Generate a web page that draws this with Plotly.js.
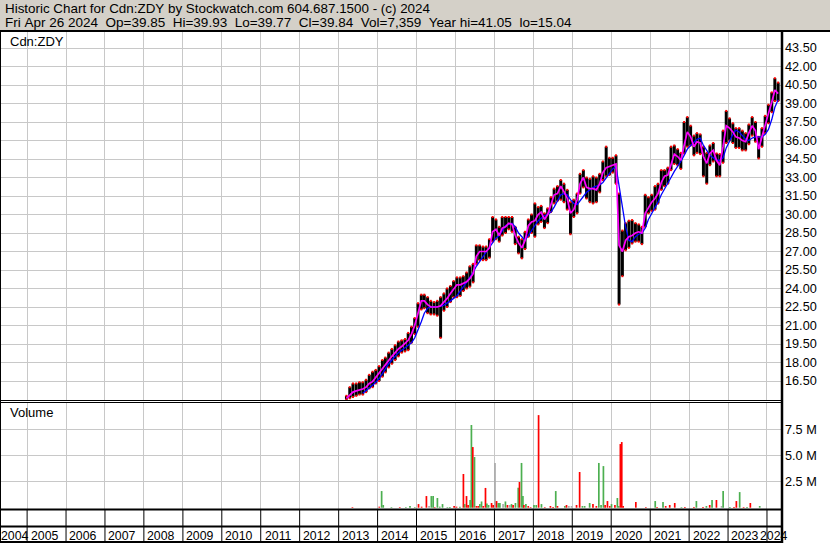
<!DOCTYPE html>
<html><head><meta charset="utf-8">
<script src="https://cdn.plot.ly/plotly-3.0.1.min.js"></script>
<style>html,body{margin:0;padding:0;background:#fff;} #chart{width:830px;height:543px;}</style>
</head><body><div id="chart"></div>
<script>
// ---- data (monthly), first month = March 2013 ----
const startYear = 2013, startMonthIdx = 2;
const priceHigh = [
 15.3,16.0,16.3,16.3,16.4,16.4,16.6,17.0,17.25,17.4,
 17.7,18.2,18.4,18.8,19.1,19.4,19.7,19.8,19.9,20.4,20.9,21.6,
 22.8,23.5,23.5,23.3,23.0,22.9,23.0,23.3,23.6,24.0,24.2,24.6,
 24.9,24.9,25.0,25.3,25.8,26.0,27.5,27.5,27.4,27.4,28.0,29.8,
 29.6,29.0,29.8,29.8,29.8,29.8,29.0,28.2,28.0,28.6,29.6,30.0,
 30.9,30.6,30.7,30.1,30.5,31.4,32.1,32.3,32.8,32.5,32.0,31.0,
 31.2,31.7,33.3,33.6,33.0,32.9,33.1,33.0,33.3,34.3,35.5,34.6,
 34.6,34.8,31.7,28.7,29.3,29.5,29.55,29.3,29.2,29.0,31.6,31.4,
 31.6,32.3,32.5,33.6,33.6,33.8,35.5,35.6,35.3,35.0,37.5,37.9,
 37.2,36.4,36.6,36.5,35.5,35.0,35.6,35.8,34.95,34.9,36.8,38.4,
 37.8,37.4,37.0,37.0,36.8,36.6,37.3,37.9,37.5,36.3,37.0,38.0,
 38.9,39.9,41.05,40.7];
const priceLow = [
 15.0,15.1,15.2,15.3,15.4,15.4,15.6,15.9,16.0,16.3,
 16.5,16.85,17.2,17.6,17.9,18.2,18.5,18.8,18.9,19.0,19.6,20.3,
 20.9,22.3,22.4,22.0,21.9,21.9,21.8,20.0,22.2,22.5,22.9,23.3,
 23.3,23.4,23.8,24.0,24.15,24.5,26.0,26.3,26.3,26.3,26.5,27.8,
 28.0,27.8,28.3,28.5,28.8,28.6,27.6,26.85,26.45,27.2,28.2,28.5,
 28.2,29.2,29.4,28.9,29.3,30.2,30.9,31.1,31.2,31.0,30.4,28.4,
 29.8,30.1,31.7,32.2,31.3,31.0,30.9,31.0,31.8,32.8,33.1,33.2,
 33.4,32.5,22.7,25.0,27.1,27.3,27.65,27.8,27.8,27.6,29.0,30.1,
 30.3,30.4,30.9,32.0,32.3,32.5,33.6,34.1,34.0,33.7,34.95,35.5,
 35.6,34.8,35.0,34.9,33.1,32.5,34.0,34.3,33.1,33.1,34.2,35.8,
 36.0,35.8,35.4,35.4,35.2,35.2,35.7,36.4,35.9,34.55,35.5,36.6,
 37.4,38.3,39.2,39.2];
const maShort = [
 15.1,15.4,15.6,15.7,15.75,15.85,16.0,16.3,16.45,16.8,
 17.1,17.5,17.8,18.2,18.5,18.8,19.1,19.3,19.55,19.8,20.3,21.0,
 22.0,23.0,23.0,22.7,22.5,22.5,22.5,22.6,22.9,23.2,23.6,23.9,
 24.3,24.3,24.4,24.55,24.8,25.2,26.6,27.0,27.0,27.0,27.3,28.6,
 28.8,28.3,28.9,29.0,29.3,29.2,28.3,27.7,27.3,27.9,29.1,29.4,
 29.5,30.0,30.2,29.6,30.0,30.9,31.6,31.7,32.3,31.85,31.3,30.1,
 30.4,31.2,32.5,33.0,32.2,32.1,32.1,32.0,32.5,33.4,33.8,33.9,
 34.0,34.1,27.5,27.0,27.9,28.2,28.3,28.5,28.6,28.5,30.1,30.6,
 31.0,31.3,31.7,32.6,33.1,33.2,34.1,34.9,34.7,34.4,35.6,36.7,
 36.3,35.5,35.9,35.8,34.7,34.15,34.95,35.2,34.4,34.0,35.5,37.2,
 37.0,36.7,36.3,36.2,36.0,35.9,36.6,37.2,36.8,35.3,36.3,37.3,
 38.2,39.1,40.1,39.8];
const maLong = [
 null,null,null,null,null,15.5,15.7,15.95,16.15,16.4,
 16.7,17.1,17.5,17.9,18.2,18.5,18.8,19.0,19.2,19.4,19.6,20.0,
 20.6,21.3,22.0,22.4,22.5,22.5,22.5,22.55,22.65,22.8,23.0,23.2,
 23.4,23.8,24.1,24.5,24.9,25.3,25.8,26.2,26.6,27.0,27.4,27.8,
 28.1,28.3,28.7,29.1,29.2,29.3,29.0,28.5,28.2,27.9,28.3,28.7,
 29.1,29.5,29.7,29.9,30.0,30.2,30.6,31.1,31.6,31.7,31.6,31.2,
 30.9,30.8,31.1,31.4,31.8,32.0,32.2,32.3,32.4,32.6,33.0,33.3,
 33.7,33.9,32.3,30.4,29.0,27.9,27.8,28.2,28.4,28.5,28.9,29.6,
 30.1,30.5,31.0,31.6,32.1,32.6,33.0,33.5,33.9,34.3,34.8,35.3,
 35.6,35.9,36.1,36.2,35.6,35.2,34.8,34.6,34.4,34.4,34.6,35.4,
 36.0,36.5,36.85,36.7,36.4,36.1,36.0,36.2,36.3,36.3,36.3,36.5,
 36.9,37.7,38.7,39.3];

// volume spikes (millions), colour code g=up r=down n=unchanged
const volDates = ['2013-05-10','2014-01-17','2014-02-08','2014-02-23','2014-05-11','2014-07-28','2014-09-23','2014-11-01','2014-12-16',
 '2015-01-20','2015-02-18','2015-04-04','2015-04-29','2015-05-20','2015-06-06','2015-06-21','2015-07-16','2015-08-07','2015-09-02','2015-10-18','2015-11-10','2015-12-20',
 '2016-01-11','2016-02-12','2016-03-16','2016-03-28','2016-04-14','2016-04-29','2016-05-18','2016-05-30','2016-06-12','2016-06-28','2016-07-16','2016-08-02','2016-08-17','2016-09-02','2016-09-18','2016-10-09','2016-10-22','2016-11-07','2016-12-05','2016-12-20',
 '2017-01-06','2017-01-21','2017-02-06','2017-02-21','2017-03-23','2017-04-14','2017-05-03','2017-05-24','2017-06-10','2017-06-25','2017-07-17','2017-08-12','2017-08-24','2017-09-12','2017-09-25','2017-10-04','2017-10-23','2017-11-14','2017-12-06',
 '2018-01-07','2018-01-28','2018-02-19','2018-03-18','2018-04-18','2018-06-10','2018-07-05','2018-07-30','2018-08-15','2018-10-23','2018-11-08','2018-11-30','2018-12-25',
 '2019-02-10','2019-03-11','2019-04-06','2019-04-27','2019-06-13','2019-07-14','2019-08-15','2019-09-07','2019-09-28','2019-10-20','2019-11-05','2019-11-27','2019-12-19',
 '2020-01-04','2020-02-05','2020-02-28','2020-03-12','2020-03-27','2020-04-09','2020-04-22','2020-08-19','2020-11-21',
 '2021-02-17','2021-03-06','2021-05-01','2021-05-26','2021-07-03','2021-08-19','2021-10-21','2021-11-22',
 '2022-02-15','2022-03-10','2022-05-11','2022-06-12','2022-07-13','2022-08-04','2022-09-14','2022-11-01','2022-11-16',
 '2023-01-18','2023-02-26','2023-03-20','2023-04-20','2023-05-27','2023-06-28','2023-07-29','2023-10-25'];
const volValues = [0.06,0.1,1.6,0.26,0.06,0.06,0.06,0.16,0.06,
 0.35,0.1,1.12,0.16,1.12,1.12,0.06,0.93,0.1,0.35,0.06,0.06,0.16,
 0.1,0.1,3.24,0.35,1.12,0.26,0.74,7.95,5.83,4.87,0.16,0.16,0.35,0.6,0.16,1.9,0.4,0.26,0.45,0.26,
 4.3,0.64,0.45,0.45,0.35,0.6,0.26,0.26,0.35,0.26,0.45,1.92,2.47,4.3,1.12,0.26,0.35,0.16,0.06,
 0.26,0.26,8.9,0.35,0.06,0.16,0.06,1.6,0.16,0.16,0.26,0.16,0.16,
 0.26,3.43,0.16,0.16,0.45,0.35,0.16,4.3,0.26,4.0,0.26,0.64,0.16,
 0.35,0.26,0.93,0.16,6.12,6.31,0.16,0.55,0.06,
 0.64,0.06,0.55,0.16,0.26,0.45,0.06,0.06,
 0.06,0.64,0.06,0.16,0.26,0.74,0.74,0.16,1.6,
 0.06,0.06,0.64,1.5,0.06,0.06,0.45,0.16];
const volColors = ['r','r','g','g','g','r','g','g','g',
 'r','r','r','n','g','g','r','g','g','g','g','g','r',
 'r','g','r','g','r','r','g','g','r','g','r','r','g','g','r','r','g','g','r','r',
 'n','r','g','g','n','g','r','n','g','r','g','g','r','g','g','r','g','r','r',
 'g','g','r','g','r','r','r','g','r','g','r','n','n',
 'r','r','g','g','g','r','r','g','g','g','r','r','r',
 'g','r','g','g','r','r','r','r','r',
 'g','r','g','r','r','r','g','r',
 'r','g','r','g','r','g','r','n','g',
 'g','r','r','g','r','g','r','g'];

const priceTicks = [16.5,18,19.5,21,22.5,24,25.5,27,28.5,30,31.5,33,34.5,36,37.5,39,40.5,42,43.5];
const volTicks = [2.5,5,7.5];
const volTickText = ['2.5 M','5.0 M','7.5 M'];
const years = [2005,2006,2007,2008,2009,2010,2011,2012,2013,2014,2015,2016,2017,2018,2019,2020,2021,2022,2023];
const headerLine1 = 'Historic Chart for Cdn:ZDY by Stockwatch.com 604.687.1500 - (c) 2024';
const headerLine2 = 'Fri Apr 26 2024  Op=39.85  Hi=39.93  Lo=39.77  Cl=39.84  Vol=7,359  Year hi=41.05  lo=15.04';

// ---- build ----
function monthDate(i){const m=startMonthIdx+i;const y=startYear+Math.floor(m/12);const mm=m%12+1;return y+'-'+String(mm).padStart(2,'0')+'-15';}
const months = priceHigh.map((_,i)=>monthDate(i));
const DAY = 864e5;
const colMap = {g:'#4caf50', r:'#ff0000', n:'#aaaaaa'};
const yearStarts = years.concat([2024]).map(y=>y+'-01-01');

const W=830, H=543, L=1, R=48;
const px2x = p => (p-L)/(W-L-R);
const px2y = p => 1 - p/H;
const FONT = 'Liberation Sans, Arial, sans-serif';

const traces = [
 {type:'bar', x:months, y:priceHigh.map((h,i)=>h-priceLow[i]), base:priceLow, width:28*DAY,
  marker:{color:'#000', line:{width:0}}, xaxis:'x', yaxis:'y', hoverinfo:'skip'},
 {type:'scatter', mode:'markers', x:months.concat(months), y:priceLow.concat(priceHigh),
  marker:{color:'#ff0000', symbol:'square', size:2, line:{width:0}}, xaxis:'x', yaxis:'y', hoverinfo:'skip'},
 {type:'scatter', mode:'lines', x:months, y:maLong, line:{color:'#0000ff', width:1.3}, xaxis:'x', yaxis:'y'},
 {type:'scatter', mode:'lines', x:months, y:maShort, line:{color:'#ff00ff', width:1.7}, xaxis:'x', yaxis:'y'},
 {type:'bar', x:volDates, y:volValues.map(v=>v*1e6), width:16*DAY,
  marker:{color:volColors.map(c=>colMap[c]), line:{width:0}}, xaxis:'x2', yaxis:'y2'}
];

const xBase = {type:'date', range:['2004-05-01','2024-05-21'], domain:[0,1], showgrid:true, gridcolor:'#c8c8c8', gridwidth:1,
  tickmode:'array', tickvals:yearStarts, showticklabels:false, ticks:'', zeroline:false, showline:false};

const shapes = [];
const line = (x0,y0,x1,y1,w)=>shapes.push({type:'line', xref:'paper', yref:'paper', x0:px2x(x0), x1:px2x(x1), y0:px2y(y0), y1:px2y(y1), line:{color:'#000', width:w}});
shapes.push({type:'rect', xref:'paper', yref:'paper', x0:px2x(0), x1:px2x(830), y0:px2y(0), y1:px2y(31), fillcolor:'#d4d0c8', line:{width:0}, layer:'below'});
line(0,31,830,31,2);
line(0.5,31,0.5,543,1);
line(782,31,782,543,2.5);
line(0,400.5,782,400.5,1);
line(0,402.5,782,402.5,1);
line(0,509.5,782,509.5,2);
line(0,526.5,782,526.5,2);
line(0,542,782,542,2);
yearStarts.forEach(d=>shapes.push({type:'line', xref:'x', yref:'paper', x0:d, x1:d, y0:px2y(510), y1:px2y(542), line:{color:'#000', width:1}}));

const annotations = [
 {xref:'paper', yref:'paper', x:px2x(3), y:px2y(9), xanchor:'left', yanchor:'middle', text:headerLine1.replace(/ /g,'\u00a0'), showarrow:false, font:{size:13.4}},
 {xref:'paper', yref:'paper', x:px2x(3), y:px2y(22.5), xanchor:'left', yanchor:'middle', text:headerLine2.replace(/ /g,'\u00a0'), showarrow:false, font:{size:13.5}},
 {xref:'paper', yref:'paper', x:px2x(8), y:px2y(41), xanchor:'left', yanchor:'middle', text:'Cdn:ZDY', showarrow:false, font:{size:13}},
 {xref:'paper', yref:'paper', x:px2x(8), y:px2y(413), xanchor:'left', yanchor:'middle', text:'Volume', showarrow:false, font:{size:13}},
 {xref:'paper', yref:'paper', x:px2x(-1), y:px2y(535.5), xanchor:'left', yanchor:'middle', text:'2004', showarrow:false, font:{size:12.3}},
 {xref:'x', yref:'paper', x:'2024-01-01', xshift:-9, y:px2y(535.5), xanchor:'left', yanchor:'middle', text:'2024', showarrow:false, font:{size:12.3}}
];
years.forEach(y=>annotations.push({xref:'x', yref:'paper', x:y+'-07-02', xshift:-2, y:px2y(535.5), xanchor:'center', yanchor:'middle', text:String(y), showarrow:false, font:{size:12.3}}));

const layout = {
 width:W, height:H, margin:{l:L, r:R, t:0, b:0, pad:0},
 paper_bgcolor:'#ffffff', plot_bgcolor:'#ffffff', showlegend:false, barmode:'overlay',
 font:{family:FONT, color:'#000', size:13},
 xaxis:Object.assign({}, xBase, {anchor:'y'}),
 xaxis2:Object.assign({}, xBase, {anchor:'y2', matches:'x'}),
 yaxis:{domain:[px2y(400), px2y(32)], range:[14.96,44.8], side:'right', anchor:'x', tickvals:priceTicks, tickformat:'.2f',
   showgrid:true, gridcolor:'#c8c8c8', ticks:'', zeroline:false, showline:false, ticklabelstandoff:2, tickfont:{size:12.7, color:'#000'}},
 yaxis2:{domain:[px2y(509), px2y(402)], range:[-0.125e6, 10.16e6], side:'right', anchor:'x2', tickvals:volTicks.map(v=>v*1e6), ticktext:volTickText,
   showgrid:true, gridcolor:'#c8c8c8', ticks:'', zeroline:false, showline:false, ticklabelstandoff:2, tickfont:{size:12.7, color:'#000'}},
 shapes:shapes, annotations:annotations
};

Plotly.newPlot('chart', traces, layout, {displayModeBar:false, staticPlot:true});
</script></body></html>
